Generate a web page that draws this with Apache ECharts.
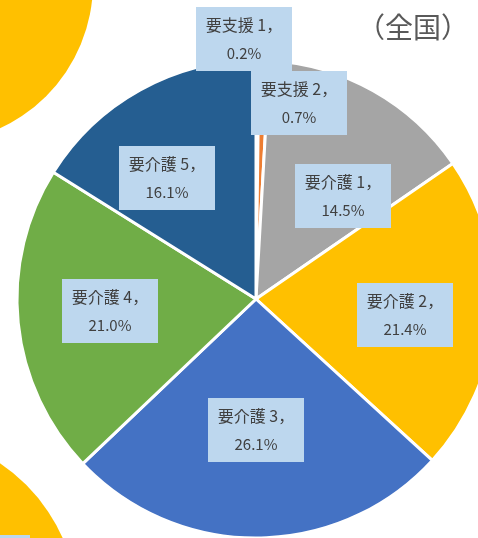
<!DOCTYPE html>
<html>
<head>
<meta charset="utf-8">
<script src="https://cdn.jsdelivr.net/npm/echarts@6/dist/echarts.min.js"></script>
<style>
  html, body { margin: 0; padding: 0; background: #fff; }
  #chart { width: 478px; height: 538px; }
</style>
</head>
<body>
<div id="chart"></div>
<script>
// 要介護度別の構成比（全国）
var categories = ['要支援 1', '要支援 2', '要介護 1', '要介護 2', '要介護 3', '要介護 4', '要介護 5']
var shares = [0.2, 0.7, 14.5, 21.4, 26.1, 21.0, 16.1]

var colors = ['#4472C4', '#ED7D31', '#A5A5A5', '#FFC000', '#4472C4', '#70AD47', '#255E91']
// label box centres (Excel "best fit" placement)
var labelPos = [[244, 39], [299, 103], [343, 196], [405, 315], [256, 430], [110, 311], [167, 178]]

var chart = echarts.init(document.getElementById('chart'))

var pieData = categories.map(function (name, i) {
  return { name: name, value: shares[i], itemStyle: { color: colors[i] } }
})

var option = {
  animation: false,
  graphic: [
    // pieces of the neighbouring charts cut off by the crop
    { type: 'circle', shape: { cx: -67, cy: -17, r: 160 }, style: { fill: '#FFC000' }, z: 0 },
    { type: 'circle', shape: { cx: -99, cy: 610, r: 177 }, style: { fill: '#FFC000' }, z: 0 },
    { type: 'rect', shape: { x: 0, y: 535, width: 30, height: 4 }, style: { fill: '#BDD7EE' }, z: 1 },
    {
      type: 'text', x: 413, y: 27, z: 10,
      style: {
        text: '（全国）', fill: '#595959',
        font: '28px "Noto Sans CJK JP"',
        align: 'center', verticalAlign: 'middle'
      }
    }
  ],
  series: [{
    type: 'pie',
    center: [256, 299],
    radius: 239,
    startAngle: 90,
    clockwise: true,
    avoidLabelOverlap: false,
    itemStyle: {
      borderColor: '#fff',
      borderWidth: 3
    },
    label: {
      show: true,
      position: 'inside',
      backgroundColor: '#BDD7EE',
      padding: [3, 8],
      width: 80,
      formatter: function (p) {
        return '{a|' + p.name + '，}\n{b|' + p.value.toFixed(1) + '%}'
      },
      rich: {
        a: {
          fontFamily: 'Noto Sans CJK JP', fontSize: 16, color: '#404040',
          lineHeight: 29, align: 'center'
        },
        b: {
          fontFamily: 'Noto Sans CJK JP', fontSize: 15, color: '#404040',
          lineHeight: 29, align: 'center'
        }
      }
    },
    labelLine: { show: false },
    labelLayout: function (params) {
      var p = labelPos[params.dataIndex]
      return { x: p[0], y: p[1], align: 'center', verticalAlign: 'middle' }
    },
    emphasis: { disabled: true },
    data: pieData
  }]
}

chart.setOption(option)
</script>
</body>
</html>
